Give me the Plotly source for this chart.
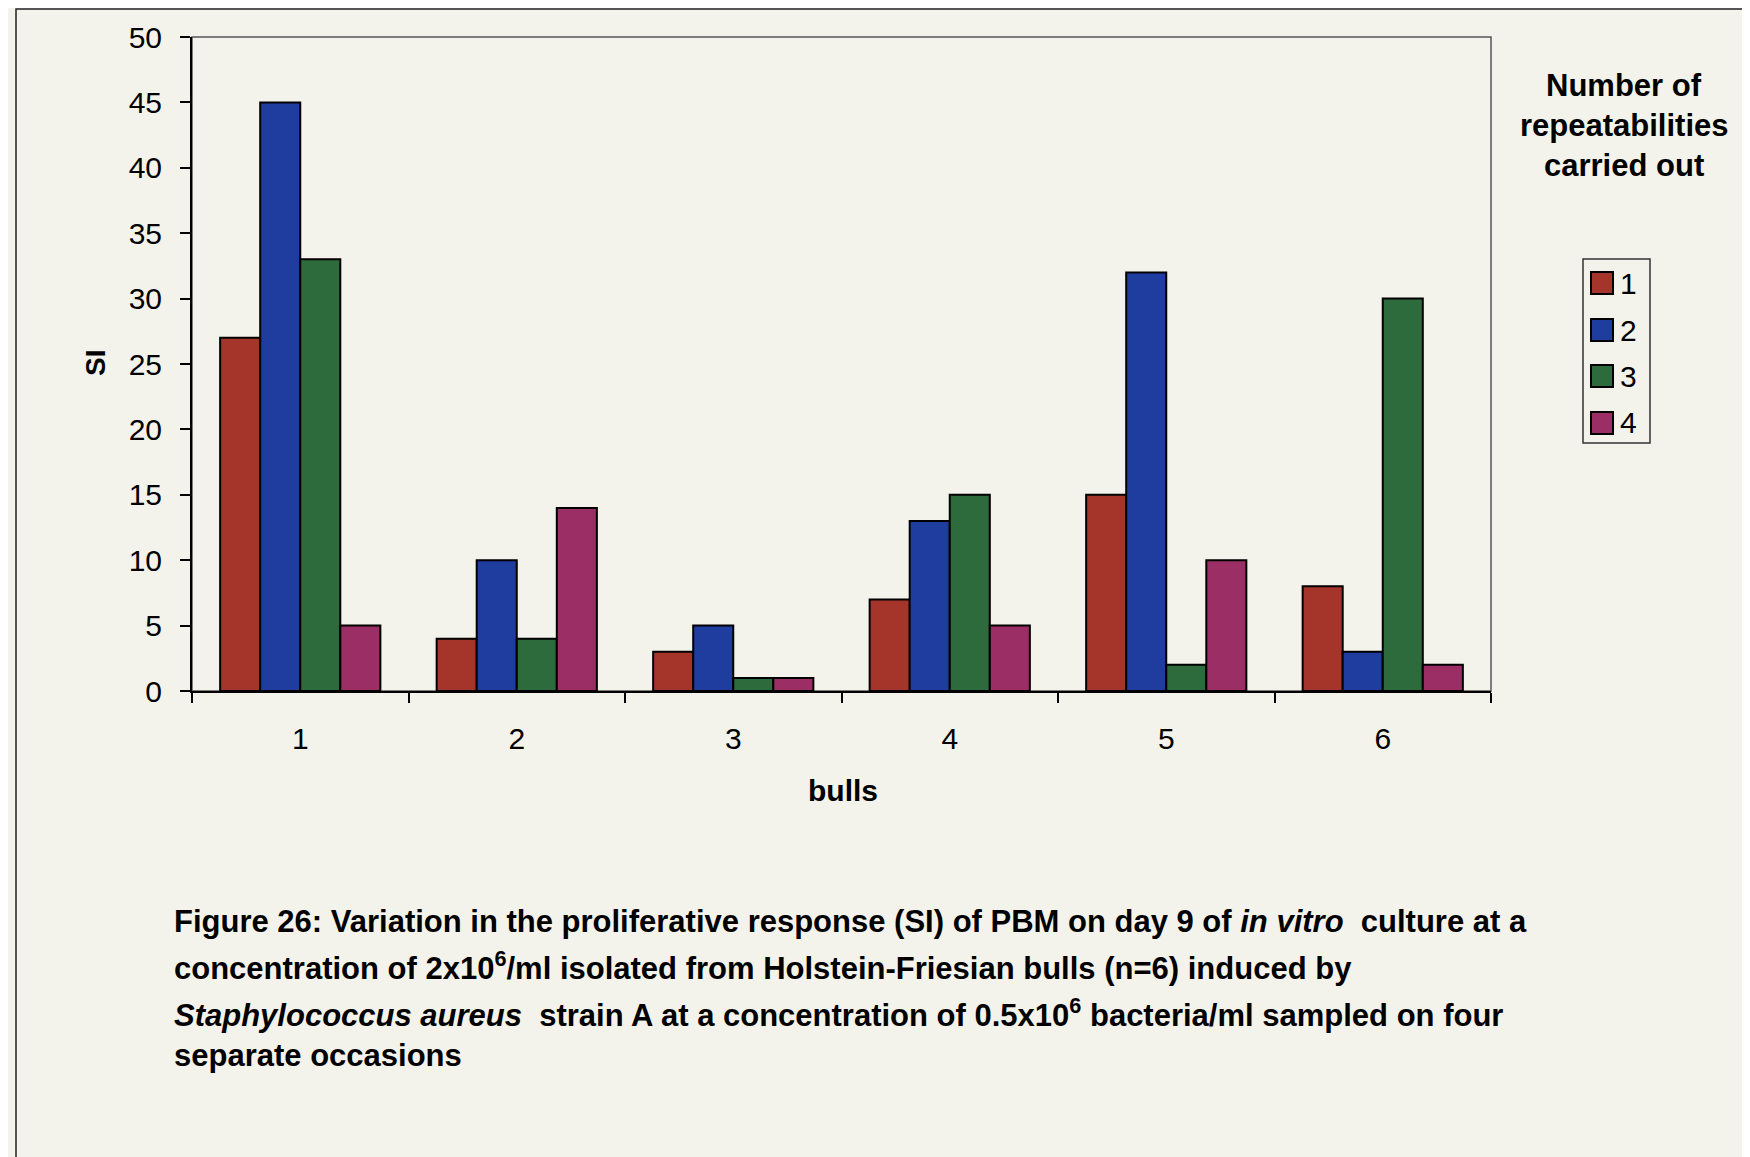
import plotly.graph_objects as go

bulls = ["1", "2", "3", "4", "5", "6"]
series_names = ["1", "2", "3", "4"]
rep1 = [27, 4, 3, 7, 15, 8]
rep2 = [45, 10, 5, 13, 32, 3]
rep3 = [33, 4, 1, 15, 2, 30]
rep4 = [5, 14, 1, 5, 10, 2]
series_values = [rep1, rep2, rep3, rep4]
colors = ["#A5352B", "#1F3D9E", "#2E6B3C", "#9C2E66"]

# page offset from browser body margin
OFF = 8
W, H = 1750 - OFF, 1157 - OFF
# plot area in page coordinates
L, R, T, B = 192, 1491, 37, 691
PW, PH = R - L, B - T
BG = "#F4F3EB"
FONT = "Liberation Sans, Arial, sans-serif"


def px(x):
    return (x - L) / PW


def py(y):
    return (B - y) / PH


fig = go.Figure()
for name, vals, col in zip(series_names, series_values, colors):
    fig.add_trace(go.Bar(
        x=bulls, y=vals, name=name, showlegend=False,
        marker=dict(color=col, line=dict(color="black", width=2)),
    ))

shapes = [
    # outer border
    dict(type="rect", xref="paper", yref="paper", x0=px(16), x1=px(1743),
         y0=py(1220), y1=py(9), line=dict(color="#222", width=1.5), layer="below"),
    # plot frame
    dict(type="rect", xref="paper", yref="paper", x0=0, x1=1, y0=0, y1=1,
         line=dict(color="#555", width=1.5), layer="below"),
    # legend box
    dict(type="rect", xref="paper", yref="paper", x0=px(1583), x1=px(1650),
         y0=py(443), y1=py(259), line=dict(color="#333", width=1.5)),
]
annotations = []
item_y = [283, 330, 376, 423]
for name, col, yy in zip(series_names, colors, item_y):
    shapes.append(dict(type="rect", xref="paper", yref="paper",
                       x0=px(1591), x1=px(1613), y0=py(yy + 11), y1=py(yy - 11),
                       fillcolor=col, line=dict(color="black", width=2)))
    annotations.append(dict(xref="paper", yref="paper", x=px(1618), y=py(yy),
                            xanchor="left", yanchor="middle", showarrow=False,
                            text=name, font=dict(size=30, color="black", family=FONT)))

for txt, yy in zip(["Number of", "repeatabilities", "carried out"], [85, 125, 165]):
    annotations.append(dict(xref="paper", yref="paper", x=px(1624), y=py(yy),
                            xanchor="center", yanchor="middle", showarrow=False,
                            text="<b>%s</b>" % txt,
                            font=dict(size=31, color="black", family=FONT)))

annotations.append(dict(xref="paper", yref="paper", x=px(95), y=py(363),
                        xanchor="center", yanchor="middle", showarrow=False,
                        textangle=-90, text="<b>SI</b>",
                        font=dict(size=28, color="black", family=FONT)))
annotations.append(dict(xref="paper", yref="paper", x=px(843), y=py(790),
                        xanchor="center", yanchor="middle", showarrow=False,
                        text="<b>bulls</b>",
                        font=dict(size=30, color="black", family=FONT)))

caption = [
    "<b>Figure 26: Variation in the proliferative response (SI) of PBM on day 9 of <i>in vitro</i>  culture at a</b>",
    "<b>concentration of 2x10<sup>6</sup>/ml isolated from Holstein-Friesian bulls (n=6) induced by</b>",
    "<b><i>Staphylococcus aureus</i>  strain A at a concentration of 0.5x10<sup>6</sup> bacteria/ml sampled on four</b>",
    "<b>separate occasions</b>",
]
for txt, yy in zip(caption, [921, 966, 1013, 1055]):
    annotations.append(dict(xref="paper", yref="paper", x=px(172), y=py(yy),
                            xanchor="left", yanchor="middle", showarrow=False,
                            text=txt, align="left",
                            font=dict(size=31, color="black", family=FONT)))

fig.update_layout(
    width=W, height=H,
    margin=dict(l=L - OFF, r=W - (R - OFF), t=T - OFF, b=H - (B - OFF), pad=0),
    paper_bgcolor=BG, plot_bgcolor=BG,
    barmode="group", bargap=0.26, bargroupgap=0,
    font=dict(family=FONT, size=29, color="black"),
    shapes=shapes, annotations=annotations,
    showlegend=False,
)
fig.update_xaxes(
    type="category", tickson="boundaries", ticks="outside", ticklen=10,
    tickwidth=1.5, tickcolor="black", showline=True, linecolor="black",
    linewidth=2, showgrid=False, zeroline=False, ticklabelstandoff=20,
    tickfont=dict(size=30, color="black", family=FONT),
)
fig.update_yaxes(
    range=[0, 50], dtick=5, tick0=0, ticks="outside", ticklen=10,
    tickwidth=1.5, tickcolor="black", showline=True, linecolor="black",
    linewidth=2, showgrid=False, zeroline=False, ticklabelstandoff=12,
    tickfont=dict(size=30, color="black", family=FONT),
)

fig.write_html("out.html")
